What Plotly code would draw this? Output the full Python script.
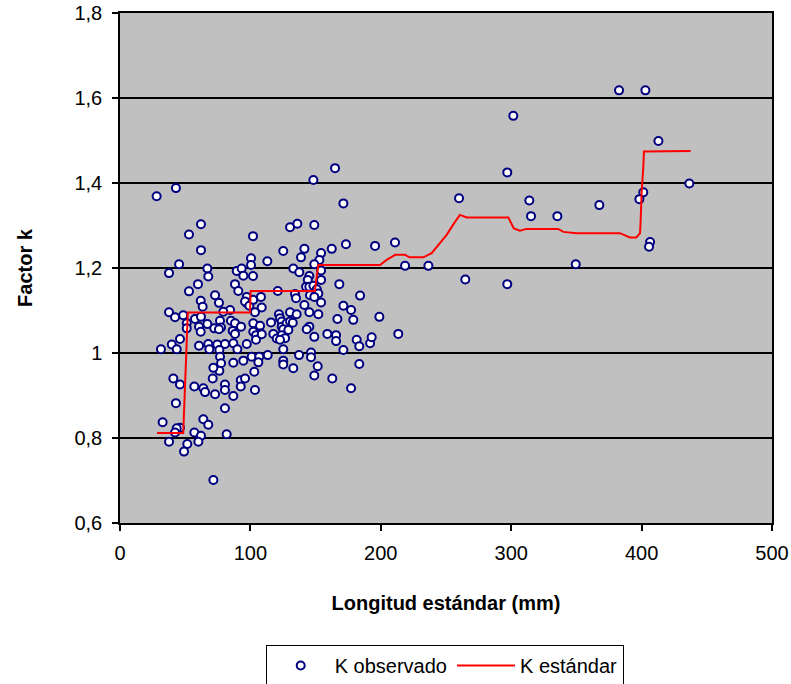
import plotly.graph_objects as go

# Observed K values (Longitud estándar mm, Factor k)
obs_x = [
    28.1, 42.9, 62.1, 52.9, 62.1, 45.3, 37.6, 67.0, 67.7, 89.5,
    59.8, 88.2, 52.9, 72.9, 61.9, 90.7, 63.4, 75.9, 84.4, 79.2,
    37.6, 42.2, 48.5, 57.5, 62.1, 51.2, 51.2, 60.6, 61.9, 67.0,
    76.7, 77.5, 72.3, 85.1, 88.2, 86.4, 88.2, 46.0, 39.7, 31.4,
    43.5, 60.6, 67.7, 68.5, 74.6, 80.5, 76.2, 86.9, 90.0, 75.9,
    76.7, 77.5, 76.2, 86.9, 40.9, 46.0, 57.0, 63.9, 65.2, 71.6,
    71.1, 80.5, 80.5, 72.9, 42.9, 80.5, 32.7, 63.9, 67.7, 46.0,
    43.5, 42.2, 57.0, 62.1, 81.8, 37.6, 51.6, 60.1, 49.1, 71.6,
    86.9,
    164.9, 148.3, 171.3, 130.4, 136.0, 149.0, 102.0, 173.3, 195.6, 210.9,
    125.2, 141.4, 154.2, 162.4, 138.8, 100.5, 100.5, 113.0, 152.9, 149.0,
    132.9, 137.5, 93.3, 94.6, 102.0, 154.2, 154.2, 145.2, 144.0, 168.2,
    142.7, 145.2, 148.3, 150.9, 152.1, 145.7, 149.0, 121.0, 134.2, 135.0,
    184.1, 97.2, 97.2, 95.9, 99.2, 102.2, 108.1, 108.7, 103.5, 141.4,
    154.2, 171.3, 177.2, 145.2, 152.1, 130.4, 135.5, 121.9, 122.7, 166.7,
    178.9, 198.9, 92.8, 102.2, 102.2, 107.4, 108.1, 115.8, 124.0, 124.0,
    127.8, 130.4, 132.5, 125.2, 129.1, 145.2, 143.2, 104.3, 104.3, 108.7,
    117.6, 120.2, 124.0, 126.6, 122.7, 149.0, 159.0, 165.7, 165.7, 181.5,
    183.5, 191.8, 193.0, 213.4, 97.2, 171.3, 113.3, 125.2, 137.3, 146.5,
    146.5, 94.6, 101.0, 106.8, 106.1, 103.0, 125.2, 125.2, 151.6, 132.9,
    183.5, 149.0, 162.8, 177.2, 92.6, 92.6, 95.9, 103.5,
    301.6, 297.0, 260.0, 313.9, 315.2, 335.4, 218.6, 236.5, 264.8, 297.0,
    349.5, 382.7, 402.9, 412.9, 436.6, 367.6, 401.3, 398.3, 406.5, 405.7,
]
obs_k = [
    1.369, 1.388, 1.303, 1.279, 1.242, 1.209, 1.188, 1.199, 1.180, 1.193,
    1.162, 1.162, 1.145, 1.136, 1.123, 1.146, 1.109, 1.118, 1.101, 1.097,
    1.096, 1.084, 1.089, 1.080, 1.085, 1.070, 1.058, 1.062, 1.050, 1.068,
    1.076, 1.060, 1.058, 1.076, 1.070, 1.052, 1.045, 1.033, 1.020, 1.009,
    1.009, 1.017, 1.021, 1.009, 1.020, 1.021, 1.007, 1.023, 1.009, 1.056,
    0.991, 0.976, 0.958, 0.977, 0.940, 0.926, 0.921, 0.917, 0.908, 0.965,
    0.940, 0.926, 0.913, 0.903, 0.882, 0.870, 0.837, 0.844, 0.831, 0.824,
    0.823, 0.813, 0.813, 0.805, 0.809, 0.791, 0.786, 0.791, 0.768, 0.701,
    0.899,
    1.435, 1.407, 1.352, 1.296, 1.304, 1.301, 1.275, 1.256, 1.252, 1.260,
    1.240, 1.245, 1.235, 1.245, 1.225, 1.223, 1.207, 1.216, 1.219, 1.209,
    1.199, 1.190, 1.199, 1.182, 1.181, 1.194, 1.172, 1.181, 1.172, 1.162,
    1.156, 1.156, 1.158, 1.150, 1.140, 1.136, 1.132, 1.146, 1.139, 1.129,
    1.135, 1.132, 1.117, 1.121, 1.111, 1.125, 1.132, 1.107, 1.096, 1.113,
    1.119, 1.111, 1.101, 1.096, 1.091, 1.096, 1.091, 1.091, 1.082, 1.080,
    1.078, 1.085, 1.062, 1.070, 1.050, 1.064, 1.046, 1.072, 1.074, 1.062,
    1.070, 1.074, 1.071, 1.056, 1.054, 1.062, 1.056, 1.042, 1.031, 1.044,
    1.045, 1.034, 1.042, 1.035, 1.031, 1.038, 1.045, 1.042, 1.028, 1.031,
    1.016, 1.023, 1.037, 1.045, 1.021, 1.007, 0.995, 1.009, 0.995, 1.001,
    0.990, 0.982, 0.991, 0.991, 0.978, 0.956, 0.982, 0.973, 0.969, 0.964,
    0.974, 0.947, 0.940, 0.917, 0.936, 0.921, 0.940, 0.913,
    1.558, 1.425, 1.364, 1.359, 1.322, 1.322, 1.205, 1.205, 1.173, 1.162,
    1.209, 1.618, 1.618, 1.499, 1.399, 1.348, 1.378, 1.362, 1.261, 1.250,
]

# Standard K curve
std_x = [28.4, 48.5, 52.0, 99.7, 100.2, 149.5, 150.5, 152.1, 199.4, 204.5,
         211.0, 218.6, 222.0, 232.6, 239.0, 244.0, 250.5, 257.0, 260.7, 265.9,
         297.8, 302.0, 306.7, 311.8, 336.0, 340.0, 350.0, 383.4, 391.0, 396.0,
         398.8, 399.3, 400.0, 401.3, 401.8, 437.6]
std_k = [0.812, 0.812, 1.095, 1.095, 1.146, 1.146, 1.172, 1.207, 1.207, 1.219,
         1.231, 1.231, 1.225, 1.225, 1.235, 1.254, 1.278, 1.309, 1.325, 1.319,
         1.319, 1.293, 1.288, 1.292, 1.292, 1.285, 1.282, 1.282, 1.272, 1.272,
         1.282, 1.313, 1.376, 1.438, 1.474, 1.475]

y_ticks = [0.6, 0.8, 1.0, 1.2, 1.4, 1.6, 1.8]
x_ticks = [0, 100, 200, 300, 400, 500]

FONT = "Liberation Sans, Arial, sans-serif"

fig = go.Figure()
fig.add_trace(go.Scatter(
    x=obs_x, y=obs_k, mode="markers", name="K observado",
    marker=dict(symbol="circle", size=8, color="white",
                line=dict(color="#000080", width=2)),
))
fig.add_trace(go.Scatter(
    x=std_x, y=std_k, mode="lines", name="K estándar",
    line=dict(color="#FF0000", width=2),
))

fig.update_layout(
    width=791, height=684,
    margin=dict(l=120, r=19, t=13, b=161),
    paper_bgcolor="white", plot_bgcolor="#C0C0C0",
    separators=",.",
    font=dict(family=FONT, size=20, color="black"),
    showlegend=True,
    legend=dict(orientation="h", x=0.498, xanchor="center",
                yref="container", y=0.057, yanchor="top",
                bordercolor="black", borderwidth=1, bgcolor="white",
                font=dict(size=20), itemwidth=58, tracegroupgap=0),
    xaxis=dict(range=[0, 500], tickvals=x_ticks, ticks="outside", ticklen=6,
               tickcolor="black", tickwidth=1.5, showline=True, linecolor="black",
               linewidth=1.5, mirror=True, showgrid=False, zeroline=False,
               automargin=False, ticklabelstandoff=5,
               title=dict(text="<b>Longitud estándar (mm)</b>", standoff=33,
                          font=dict(size=20))),
    yaxis=dict(range=[0.6, 1.8], tickvals=y_ticks, ticks="outside", ticklen=6,
               tickcolor="black", tickwidth=1.5, showline=True, linecolor="black",
               linewidth=1.5, mirror=True, showgrid=True, gridcolor="black",
               gridwidth=2, zeroline=False, automargin=False, ticklabelstandoff=6,
               title=dict(text="<b>Factor k</b>", standoff=36, font=dict(size=20))),
)

fig.write_html("out.html")
